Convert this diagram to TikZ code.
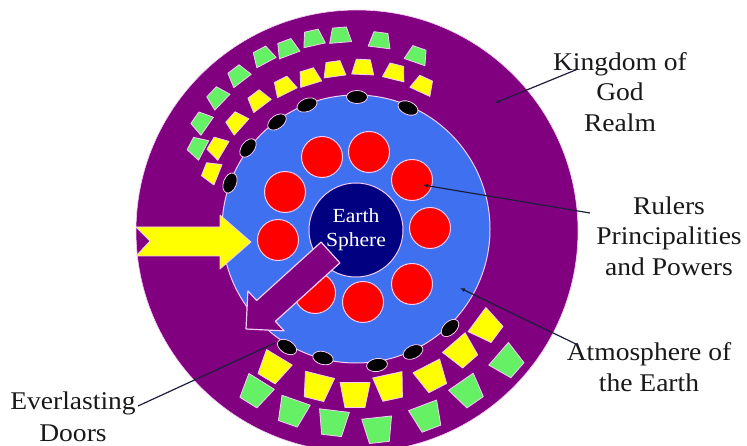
\documentclass[tikz,border=0pt]{standalone}
\usepackage{fontspec}
\setmainfont{Liberation Serif}[FakeStretch=1.08]
\usetikzlibrary{calc,arrows.meta}
\definecolor{kpurple}{RGB}{128,0,128}
\definecolor{kblue}{RGB}{62,112,240}
\definecolor{knavy}{RGB}{0,0,128}
\definecolor{kred}{RGB}{255,0,0}
\definecolor{kyellow}{RGB}{255,255,0}
\definecolor{kgreen}{RGB}{102,240,102}
\definecolor{kedge}{RGB}{245,205,245}
\definecolor{klead}{RGB}{30,30,60}
\definecolor{ktext}{RGB}{25,25,25}
\tikzset{
  tz/.style={draw=kedge, line width=0.8pt, line join=round},
  ell/.style={draw=kedge, line width=0.8pt, fill=black},
  redc/.style={circle, draw=kedge, line width=1pt, fill=kred, minimum size=41pt, inner sep=0pt},
  lab/.style={font=\fontsize{25.5}{30.5}\selectfont, align=center, text=ktext},
  lead/.style={draw=klead, line width=1.2pt},
  dot/.style={-{Latex[length=5pt,width=4pt]}}
}
% small trapezoid (wide side toward the centre)
\newcommand\trs[3]{\begin{scope}[shift={(#1,#2)},rotate={atan2(230-#2,#1-356)}]
  \filldraw[tz,fill=#3] (-7.5,-11) -- (-7.5,11) -- (7.5,7) -- (7.5,-7) -- cycle;\end{scope}}
% large trapezoid
\newcommand\trl[3]{\begin{scope}[shift={(#1,#2)},rotate={atan2(230-#2,#1-356)}]
  \filldraw[tz,fill=#3] (-12.5,-15) -- (-12.5,15) -- (12.5,10) -- (12.5,-10) -- cycle;\end{scope}}
% black ellipse along the edge of the blue circle
\newcommand\elp[2]{\begin{scope}[shift={(#1,#2)},rotate={atan2(230-#2,#1-356)}]
  \filldraw[ell] (0,0) ellipse [x radius=6.5, y radius=10.5];\end{scope}}
\begin{document}
\begin{tikzpicture}[x=1pt,y=-1pt]
\useasboundingbox (0,0) rectangle (747,446);
\clip (0,0) rectangle (747,446);
% outer realm
\node[circle, fill=kpurple, draw=kedge, line width=0.6pt, minimum size=442pt, inner sep=0pt] (realm) at (357,231) {};
% top-left trapezoids
\foreach \x/\y in {417/55,380/40,340/35,313/38,287/48,263/56,238/75,217/97,201/122,197/147}{\trs{\x}{\y}{kgreen}}
\foreach \x/\y in {423/85,395/72,363/67,334/69,309/77,284/86,258/100,236/122,217/147,211/172}{\trs{\x}{\y}{kyellow}}
% bottom trapezoids
\foreach \x/\y in {273/368,317/387,355/395,390/387,432/377,462/352,487/327}{\trl{\x}{\y}{kyellow}}
\foreach \x/\y in {255/392,292/412,333/423,378/430,427/417,468/392,508/362}{\trl{\x}{\y}{kgreen}}
% atmosphere
\node[circle, fill=kblue, draw=kedge, line width=1pt, minimum size=268pt, inner sep=0pt] (atmos) at (356,229) {};
% everlasting doors
\foreach \x/\y in {408/108,357/97,307/105,277/122,248/148,230/183,287/347,323/358,377/365,413/352,450/328}{\elp{\x}{\y}}
% rulers
\node[redc] (r1) at (322,157) {};
\node[redc] (r2) at (369,152) {};
\node[redc] (r3) at (412,180) {};
\node[redc] (r4) at (430,228) {};
\node[redc] (r5) at (412,284) {};
\node[redc] (r6) at (363,302) {};
\node[redc] (r7) at (315,293) {};
\node[redc] (r8) at (278,240) {};
\node[redc] (r9) at (285,192) {};
% earth
\node[circle, fill=knavy, draw=kedge, line width=1pt, minimum size=94pt, inner sep=0pt,
  text=white, font=\fontsize{20}{25}\selectfont, align=center] (earth) at (356,230) {Earth\\[-1pt]Sphere};
% yellow notched arrow
\filldraw[fill=kyellow, draw=kedge, line width=0.8pt, line join=round]
  (136,227) -- (220,227) -- (220,215) -- (251,242) -- (220,269) -- (220,256) -- (136,256) -- (150,241) -- cycle;
% purple arrow
\filldraw[fill=kpurple, draw=kedge, line width=1.2pt, line join=round]
  (246,329) -- (284.1,330.9) -- (275.4,321.3) -- (339.9,262.9) -- (321.1,242.1) -- (256.6,300.5) -- (247.9,290.9) -- cycle;
% labels
\node[lab] (kingdom) at (620,92) {Kingdom of\\God\\Realm};
\node[lab] (rulers) at (669,236) {Rulers\\Principalities\\and Powers};
\node[lab] (atmlab) at (649,367) {Atmosphere of\\the Earth};
\node[lab] (doors) at (73,417) {Everlasting\\[1pt]Doors};
% leader lines
\coordinate (kfrom) at (578,69);
\coordinate (kto) at (495,103);
\coordinate (rfrom) at (590,213);
\coordinate (rto) at (423,185);
\coordinate (afrom) at (578,345);
\coordinate (ato) at (460,288);
\coordinate (dfrom) at (138,406);
\coordinate (dto) at (275,343);
\draw[lead,dot] (kfrom) -- (kto);
\draw[lead,dot] (rfrom) -- (rto);
\draw[lead,dot] (afrom) -- (ato);
\draw[lead] (dfrom) -- (dto);
\end{tikzpicture}
\end{document}
